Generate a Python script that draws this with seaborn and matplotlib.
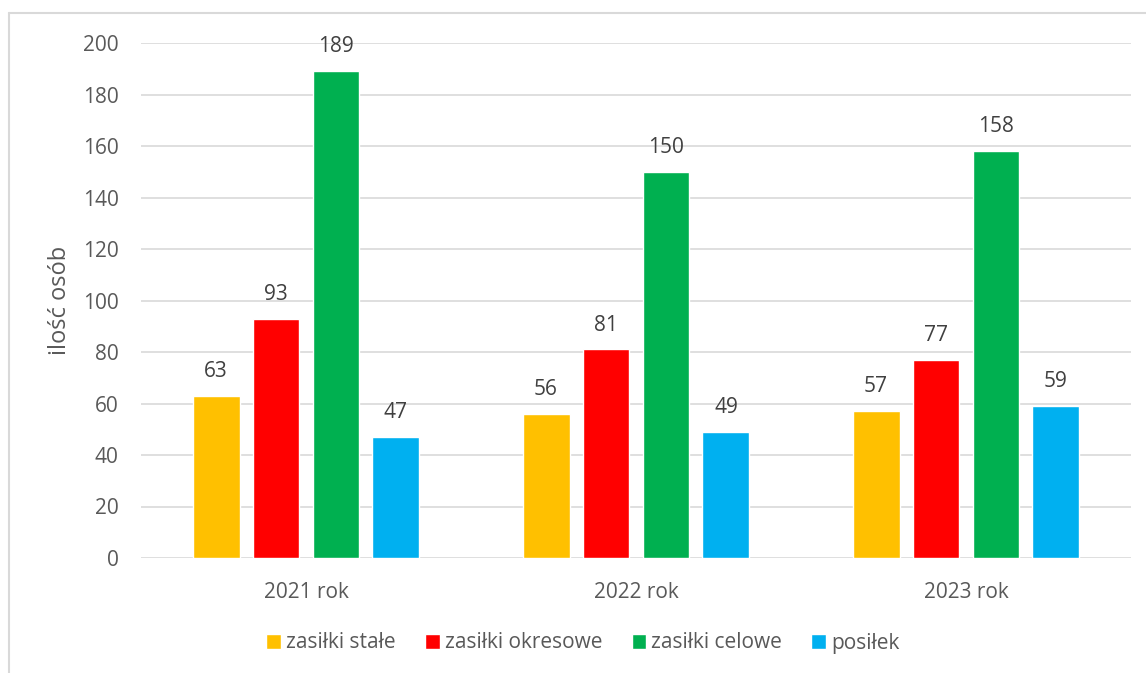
import matplotlib
matplotlib.use("Agg")
import matplotlib.pyplot as plt
import seaborn as sns
import pandas as pd
from matplotlib.lines import Line2D

years = ["2021 rok", "2022 rok", "2023 rok"]
series = ["zasiłki stałe", "zasiłki okresowe", "zasiłki celowe", "posiłek"]
zasilki_stale = [63, 56, 57]
zasilki_okresowe = [93, 81, 77]
zasilki_celowe = [189, 150, 158]
posilek = [47, 49, 59]
colors = ["#FFC000", "#FF0000", "#00B050", "#00B0F0"]

rows = []
for name, vals in zip(series, [zasilki_stale, zasilki_okresowe, zasilki_celowe, posilek]):
    for y, v in zip(years, vals):
        rows.append({"rok": y, "rodzaj": name, "osoby": v})
df = pd.DataFrame(rows)

sns.set_theme(style="white")
plt.rcParams["font.family"] = ["Open Sans", "DejaVu Sans"]
text_col = "#595959"

fig = plt.figure(figsize=(11.46, 6.73), dpi=100)
ax = fig.add_axes([141 / 1146, 1 - 558 / 673, 990 / 1146, (558 - 43) / 673])

sns.barplot(
    data=df, x="rok", y="osoby", hue="rodzaj",
    palette=colors, width=0.727, gap=0.217,
    saturation=1, errorbar=None, ax=ax, zorder=3
)

for cont in ax.containers:
    ax.bar_label(cont, padding=10, fontsize=15, color="#404040")

ax.set_ylim(0, 200)
ax.set_xlim(-0.5, 2.5)
ax.set_yticks(range(0, 201, 20))
ax.yaxis.grid(True, color="#d9d9d9", linewidth=1.2, zorder=0)
ax.set_axisbelow(True)
for s in ax.spines.values():
    s.set_visible(False)
ax.tick_params(axis="both", length=0, labelsize=15, labelcolor=text_col)
ax.tick_params(axis="y", pad=16)
ax.tick_params(axis="x", pad=17)
ax.set_xlabel("")
ax.set_ylabel("ilość osób", fontsize=17, color=text_col, labelpad=8)

handles, labels = ax.get_legend_handles_labels()
ax.legend(
    handles, labels, loc="center", bbox_to_anchor=(583 / 1146, 1 - 643 / 673),
    bbox_transform=fig.transFigure, ncol=4, frameon=False, fontsize=15,
    handlelength=0.7, handleheight=0.7, handletextpad=0.25, columnspacing=1.4,
    labelcolor=text_col
)

# chart border (partially visible, as in the source)
fig.add_artist(Line2D([9 / 1146, 1.0], [1 - 13 / 673, 1 - 13 / 673],
                      transform=fig.transFigure, color="#d9d9d9", linewidth=1.5))
fig.add_artist(Line2D([9 / 1146, 9 / 1146], [0.0, 1 - 13 / 673],
                      transform=fig.transFigure, color="#d9d9d9", linewidth=1.5))

fig.savefig("out.png", dpi=100)
